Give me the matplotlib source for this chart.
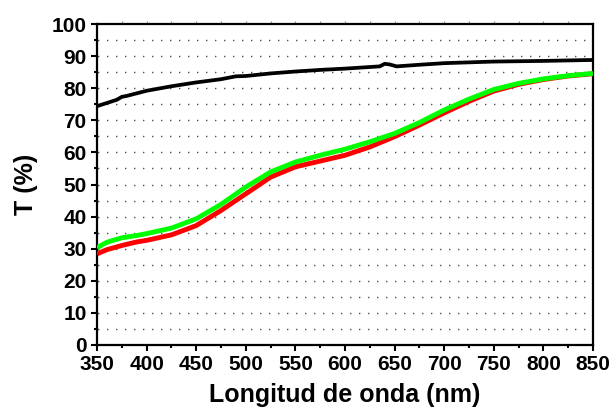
import matplotlib
matplotlib.use("Agg")
import matplotlib.pyplot as plt
from matplotlib.ticker import MultipleLocator

plt.rcParams['font.family'] = ['Liberation Sans', 'DejaVu Sans']
plt.rcParams['font.weight'] = 'bold'

# Wavelength grids (nm) and transmittance (%) for each sample
wl_ref = [350, 360, 370, 375, 380, 390, 400, 425, 450, 475, 490, 500, 525, 550,
          575, 600, 625, 635, 640, 645, 652, 675, 700, 750, 800, 850]
t_ref = [74.4, 75.4, 76.4, 77.3, 77.6, 78.4, 79.2, 80.6, 81.8, 82.8, 83.7, 83.8,
         84.6, 85.2, 85.7, 86.1, 86.6, 86.8, 87.6, 87.4, 86.8, 87.3, 87.8, 88.3, 88.5, 88.8]

wl = [350, 360, 375, 390, 400, 425, 450, 475, 500, 525, 550, 575, 600, 625,
      650, 675, 700, 725, 750, 775, 800, 825, 850]
t_red = [28.4, 29.7, 31.0, 32.1, 32.6, 34.3, 37.2, 41.9, 47.1, 52.3, 55.5, 57.3,
         59.1, 61.7, 64.9, 68.5, 72.3, 75.9, 79.1, 81.2, 82.7, 83.8, 84.5]
t_green = [30.3, 32.0, 33.4, 34.1, 34.7, 36.4, 39.3, 43.8, 49.2, 53.9, 57.0, 59.1,
           61.0, 63.3, 65.9, 69.3, 73.2, 76.6, 79.6, 81.5, 82.9, 83.9, 84.6]

x_major = [350, 400, 450, 500, 550, 600, 650, 700, 750, 800, 850]
y_major = [0, 10, 20, 30, 40, 50, 60, 70, 80, 90, 100]

fig = plt.figure(figsize=(6.11, 4.09), dpi=100)
ax = fig.add_axes([97 / 611, 64 / 409, 496 / 611, 321 / 409])

# dotted horizontal guides every 5 %
for yv in range(5, 100, 5):
    ax.axhline(yv, color='#222222', linewidth=1.0,
               linestyle=(5.98, (0.8, 5.68)), zorder=0.5)

ax.plot(wl_ref, t_ref, color='black', linewidth=2.7, zorder=3)
ax.plot(wl, t_red, color='#ff0000', linewidth=3.5, zorder=3,
        solid_capstyle='butt')
ax.plot(wl, t_green, color='#00ff00', linewidth=3.5, zorder=4,
        solid_capstyle='butt')

ax.set_xlim(350, 850)
ax.set_ylim(0, 100)
ax.set_xticks(x_major)
ax.set_yticks(y_major)
ax.xaxis.set_minor_locator(MultipleLocator(25))
ax.yaxis.set_minor_locator(MultipleLocator(5))

for s in ax.spines.values():
    s.set_linewidth(1.6)

ax.tick_params(which='major', direction='out', length=4.5, width=1.5,
               labelsize=15, pad=3)
ax.tick_params(which='minor', direction='out', length=2.5, width=1.5)
ax.tick_params(top=False, right=False)
for lab in ax.get_xticklabels() + ax.get_yticklabels():
    lab.set_fontweight('bold')

# faint ticks along the top edge
top = ax.secondary_xaxis('top')
top.set_xticks(list(range(375, 850, 25)))
top.tick_params(direction='out', length=2, width=0.8, color='#888888',
                labeltop=False)
top.spines['top'].set_visible(False)

ax.set_xlabel('Longitud de onda (nm)', fontsize=18, fontweight='bold', labelpad=6)
ax.set_ylabel('T (%)', fontsize=18, fontweight='bold', labelpad=10)

fig.savefig('out.png', dpi=100)
